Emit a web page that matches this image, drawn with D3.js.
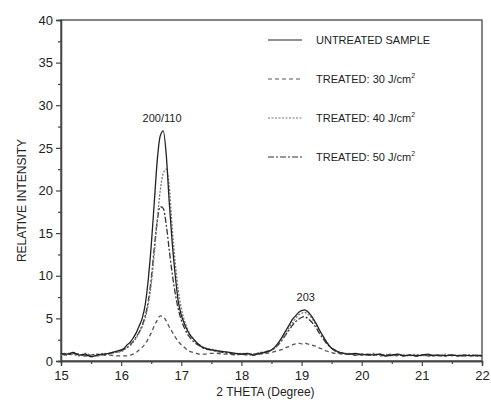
<!DOCTYPE html>
<html>
<head>
<meta charset="utf-8">
<script src="https://cdn.jsdelivr.net/npm/d3@7"></script>
<style>
  body { margin: 0; background: #fff; }
  text { font-family: "Liberation Sans", Arial, sans-serif; fill: #222; }
</style>
</head>
<body>
<div id="chart"></div>
<script>
"use strict";

// 2 theta positions (degree)
const theta = [15.0,15.1,15.2,15.3,15.4,15.5,15.6,15.7,15.8,15.9,16.0,
  16.05,16.1,16.15,16.2,16.25,16.3,16.35,16.4,16.45,16.5,16.55,16.6,16.65,16.7,16.75,16.8,16.85,16.9,16.95,17.0,17.05,17.1,17.15,17.2,17.25,17.3,17.35,17.4,
  17.5,17.6,17.7,17.8,17.9,18.0,18.1,18.2,18.3,18.4,18.5,
  18.55,18.6,18.65,18.7,18.75,18.8,18.85,18.9,18.95,19.0,19.05,19.1,19.15,19.2,19.25,19.3,19.35,19.4,19.45,19.5,19.55,19.6,
  19.7,19.8,19.9,20.0,20.1,20.2,20.3,20.4,20.5,20.6,20.7,20.8,20.9,21.0,21.1,21.2,21.3,21.4,21.5,21.6,21.7,21.8,21.9,22.0];

const untreated = [0.9,0.8,1.0,0.7,0.8,0.5,0.7,0.8,0.9,1.1,1.3,
  1.5,1.9,2.2,2.7,3.3,4.1,5.0,6.6,9.5,13.5,18.5,23.5,26.4,27.0,24.2,18.6,13.8,10.0,7.0,5.4,4.4,3.6,3.0,2.6,2.2,1.9,1.6,1.5,
  1.3,1.2,1.1,1.0,0.9,0.8,0.9,0.7,0.9,1.0,1.3,
  1.6,2.0,2.5,3.1,3.7,4.3,4.9,5.3,5.7,5.9,6.0,5.8,5.4,4.9,4.3,3.6,3.0,2.4,1.9,1.5,1.3,1.1,
  0.9,0.8,0.9,0.7,0.8,0.7,0.8,0.6,0.7,0.8,0.6,0.7,0.6,0.7,0.8,0.6,0.7,0.6,0.7,0.6,0.7,0.6,0.7,0.6];

const treated30 = [0.8,0.9,0.7,0.8,0.6,0.7,0.6,0.7,0.7,0.6,0.6,
  0.6,0.6,0.7,0.8,1.0,1.3,1.6,2.0,2.6,3.3,4.1,4.8,5.3,5.2,4.7,4.0,3.4,2.8,2.3,1.9,1.6,1.3,1.1,1.0,0.9,0.8,0.8,0.8,
  0.9,0.9,0.8,0.8,0.7,0.8,0.8,0.7,0.8,0.9,1.0,
  1.1,1.2,1.3,1.4,1.6,1.7,1.9,2.0,2.1,2.0,2.1,2.0,1.9,1.8,1.7,1.5,1.4,1.2,1.1,1.0,0.9,0.9,
  0.8,0.8,0.7,0.8,0.7,0.8,0.6,0.7,0.8,0.6,0.7,0.7,0.6,0.7,0.6,0.7,0.7,0.6,0.7,0.6,0.7,0.6,0.6,0.7];

const treated40 = [0.7,0.9,0.8,0.6,0.9,0.7,0.6,0.9,0.8,1.0,1.1,
  1.3,1.6,1.8,2.2,2.7,3.3,4.0,5.0,6.6,9.0,12.5,16.5,20.0,22.0,22.5,20.5,15.5,11.5,8.3,6.2,4.8,3.8,3.1,2.6,2.2,1.9,1.7,1.5,
  1.4,1.2,1.1,1.0,0.9,0.9,0.8,0.8,1.0,1.1,1.3,
  1.5,1.9,2.3,2.8,3.4,4.0,4.5,5.0,5.4,5.6,5.7,5.5,5.2,4.7,4.1,3.5,2.9,2.4,1.9,1.5,1.3,1.1,
  0.9,0.9,0.8,0.8,0.7,0.9,0.7,0.8,0.6,0.8,0.7,0.6,0.8,0.6,0.7,0.7,0.6,0.8,0.6,0.7,0.6,0.7,0.6,0.7];

const treated50 = [0.8,0.7,0.9,0.8,0.6,0.7,0.8,0.7,0.9,1.0,1.2,
  1.4,1.6,1.9,2.3,2.8,3.4,4.2,5.3,7.0,9.6,13.2,16.4,18.1,17.9,16.0,13.0,10.2,7.9,6.1,4.8,3.9,3.2,2.7,2.3,2.0,1.8,1.6,1.4,
  1.3,1.1,1.0,0.9,0.8,0.8,0.7,0.8,0.9,1.1,1.3,
  1.5,1.8,2.2,2.7,3.2,3.7,4.2,4.6,4.9,5.1,5.2,5.0,4.7,4.3,3.8,3.2,2.7,2.2,1.8,1.5,1.2,1.0,
  0.9,0.8,0.7,0.8,0.7,0.7,0.8,0.6,0.7,0.7,0.6,0.7,0.6,0.7,0.6,0.7,0.6,0.6,0.7,0.6,0.6,0.7,0.6,0.6];

const seriesNames = ["UNTREATED SAMPLE", "TREATED: 30 J/cm", "TREATED: 40 J/cm", "TREATED: 50 J/cm"];
const seriesValues = [untreated, treated30, treated40, treated50];
const seriesDash = ["none", "4,3", "2,1.5", "6,2,2,2"];
const seriesColor = ["#222", "#555", "#777", "#333"];

const peakLabels = ["200/110", "203"];
const peakTheta = [16.68, 19.07];
const peakTop = [27.0, 6.0];

const xTicks = [15, 16, 17, 18, 19, 20, 21, 22];
const yTicks = [0, 5, 10, 15, 20, 25, 30, 35, 40];

const width = 491, height = 403;
const margin = {top: 20, right: 9, bottom: 42, left: 61};
const innerW = width - margin.left - margin.right;
const innerH = height - margin.top - margin.bottom;

const svg = d3.select("#chart").append("svg")
    .attr("width", width)
    .attr("height", height);

const g = svg.append("g").attr("transform", `translate(${margin.left},${margin.top})`);

const x = d3.scaleLinear().domain([15, 22]).range([0, innerW]);
const y = d3.scaleLinear().domain([0, 40]).range([innerH, 0]);

// frame
g.append("rect")
    .attr("x", 0).attr("y", 0)
    .attr("width", innerW).attr("height", innerH)
    .attr("fill", "none")
    .attr("stroke", "#444")
    .attr("stroke-width", 1.3);

// minor ticks
const xMinor = d3.axisBottom(x).tickValues(d3.range(15.5, 22, 1)).tickSize(3).tickFormat("");
const yMinor = d3.axisLeft(y).tickValues(d3.range(2.5, 40, 5)).tickSize(3).tickFormat("");

g.append("g")
    .attr("transform", `translate(0,${innerH})`)
    .call(d3.axisBottom(x).tickValues(xTicks).tickSize(5).tickPadding(5).tickFormat(d3.format("d")));
g.append("g").attr("transform", `translate(0,${innerH})`).call(xMinor);

g.append("g")
    .call(d3.axisLeft(y).tickValues(yTicks).tickSize(5).tickPadding(3).tickFormat(d3.format("d")));
g.append("g").call(yMinor);

g.selectAll(".domain").attr("stroke", "#444").attr("stroke-width", 1.3);
g.selectAll(".tick line").attr("stroke", "#444").attr("stroke-width", 1.2);
g.selectAll(".tick text").style("font-size", "13px").attr("fill", "#333");

// curves
const line = d3.line()
    .x((d, i) => x(theta[i]))
    .y(d => y(d))
    .curve(d3.curveMonotoneX);

// draw treated first, untreated on top
[1, 3, 2, 0].forEach(k => {
  g.append("path")
      .datum(seriesValues[k])
      .attr("d", line)
      .attr("fill", "none")
      .attr("stroke", seriesColor[k])
      .attr("stroke-width", 1.3)
      .attr("stroke-dasharray", seriesDash[k]);
});

// peak labels
g.selectAll(".peak")
    .data(peakLabels)
    .enter()
    .append("text")
    .attr("x", (d, i) => x(peakTheta[i]))
    .attr("y", (d, i) => y(peakTop[i]) - 9)
    .attr("text-anchor", "middle")
    .style("font-size", "11px")
    .text(d => d);

// legend
const legend = g.append("g").attr("transform", `translate(${268 - margin.left},${40 - margin.top})`);
seriesNames.forEach((name, i) => {
  const row = legend.append("g").attr("transform", `translate(0,${i * 39})`);
  row.append("line")
      .attr("x1", 0).attr("x2", 34)
      .attr("y1", 0).attr("y2", 0)
      .attr("stroke", seriesColor[i])
      .attr("stroke-width", 1.2)
      .attr("stroke-dasharray", seriesDash[i]);
  const t = row.append("text")
      .attr("x", 48)
      .attr("y", 4)
      .style("font-size", "11px")
      .text(name);
  if (i > 0) {
    t.append("tspan").attr("dy", -5).style("font-size", "7px").text("2");
  }
});

// axis titles
svg.append("text")
    .attr("x", margin.left + innerW / 2 - 6)
    .attr("y", 396)
    .attr("text-anchor", "middle")
    .style("font-size", "12px")
    .text("2 THETA (Degree)");

svg.append("text")
    .attr("transform", `translate(26,${margin.top + innerH / 2 + 10}) rotate(-90)`)
    .attr("text-anchor", "middle")
    .style("font-size", "12px")
    .text("RELATIVE INTENSITY");
</script>
</body>
</html>
